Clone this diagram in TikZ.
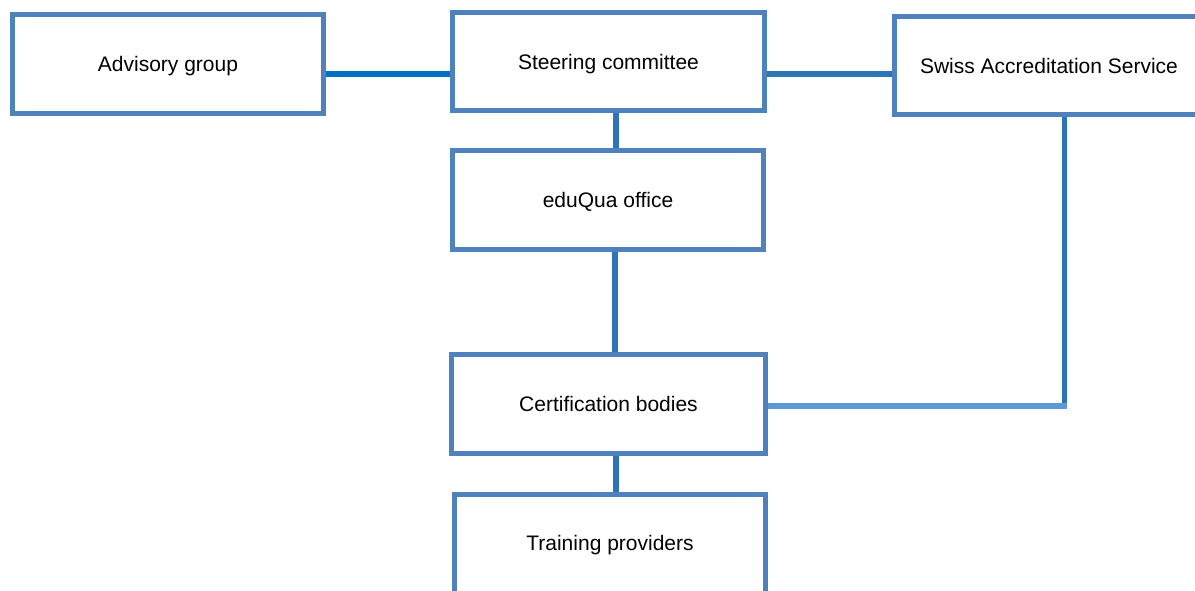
\documentclass[tikz,border=0pt]{standalone}
\usepackage{fontspec}
\setmainfont{Liberation Sans}
\definecolor{boxblue}{HTML}{4F81BD}
\definecolor{linkdark}{HTML}{2E75B6}
\definecolor{linkadv}{HTML}{0070C0}
\definecolor{linklight}{HTML}{5B9BD5}
\begin{document}
\begin{tikzpicture}[x=1pt,y=-1pt,
  orgbox/.style={draw=boxblue, line width=5pt, fill=white, rectangle, inner sep=0pt,
    font=\fontsize{21}{25}\selectfont, text=black, text height=19.5pt, text depth=4pt},
  link/.style={draw=linkdark, line width=6pt}]
\clip (0,0) rectangle (1195,590);
\fill[white] (0,0) rectangle (1195,590);
\node[orgbox, minimum width=311pt, minimum height=99pt] (adv) at (168,64) {Advisory group};
\node[orgbox, minimum width=312pt, minimum height=98pt] (steer) at (608.5,61.5) {Steering committee};
\node[orgbox, minimum width=309pt, minimum height=98pt] (swiss) at (1049,65.5) {Swiss Accreditation Service};
\node[orgbox, minimum width=311pt, minimum height=99pt] (edu) at (608,200) {eduQua office};
\node[orgbox, minimum width=313.5pt, minimum height=99pt] (cert) at (608.5,404) {Certification bodies};
\node[orgbox, minimum width=311.5pt, minimum height=108pt, text depth=15.1pt] (train) at (610,548.5) {Training providers};
\coordinate (corner) at (1064,406);
\draw[link, draw=linkadv] ([yshift=-9.5pt]adv.east) -- ([yshift=-9.5pt]adv.east -| steer.west);
\draw[link] ([yshift=-12pt]steer.east) -- ([yshift=-12pt]steer.east -| swiss.west);
\draw[link] ([xshift=7pt]steer.south) -- ([xshift=7pt]steer.south |- edu.north);
\draw[link] ([xshift=7pt]edu.south) -- ([xshift=7pt]edu.south |- cert.north);
\draw[link] ([xshift=7.5pt]cert.south) -- ([xshift=7.5pt]cert.south |- train.north);
\draw[link, line width=5pt] (swiss.south -| corner) -- ([yshift=-3pt]corner);
\draw[link, draw=linklight] (cert.east |- corner) -- ([xshift=2.5pt]corner);
\end{tikzpicture}
\end{document}
